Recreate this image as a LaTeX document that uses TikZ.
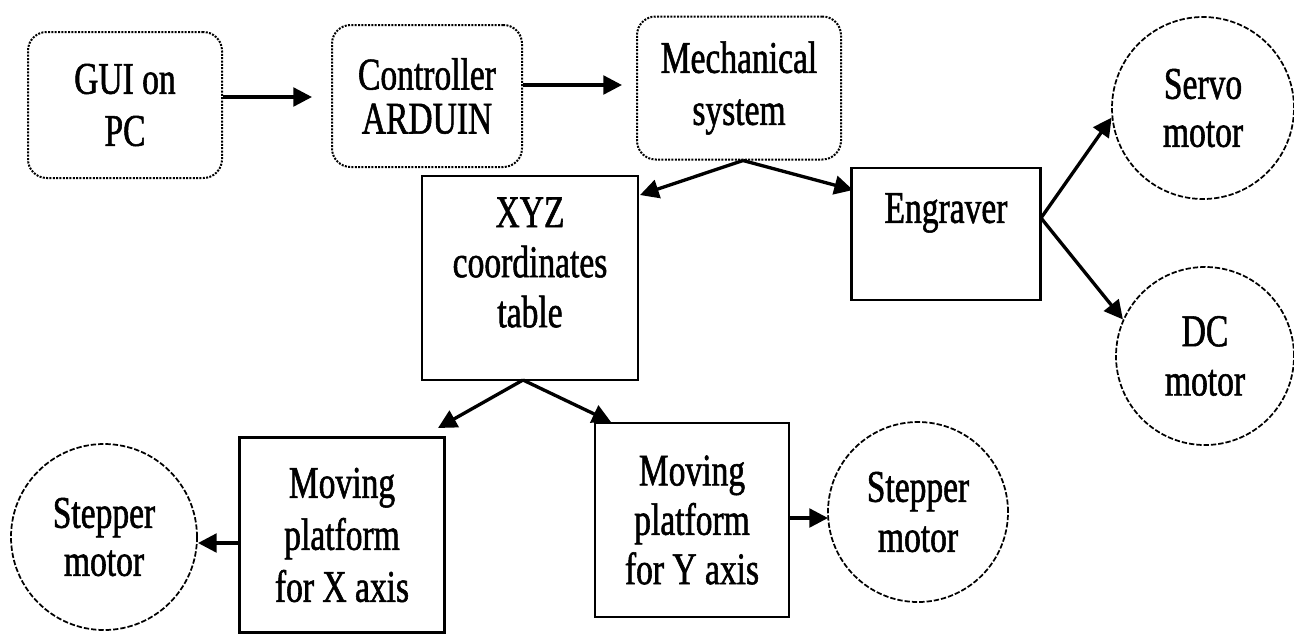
\documentclass[tikz,border=0pt]{standalone}
\usepackage{fontspec}
\setmainfont{Liberation Serif}[FakeStretch=0.74,FakeBold=1.2]
\usetikzlibrary{arrows.meta}
\tikzset{
  rbox/.style={draw=black, line width=1.5pt, densely dotted, rounded corners=14pt, align=center, inner sep=0pt},
  sbox/.style={draw=black, line width=2pt, align=center, inner sep=0pt},
  motor/.style={circle, draw=black, line width=1.3pt, dash pattern=on 4pt off 1.5pt, align=center, inner sep=0pt},
  arr/.style={draw=black, line width=2.5pt, -{Triangle[length=14pt,width=14pt]}},
}
\begin{document}
\begin{tikzpicture}[x=0.75pt,y=-0.75pt, font=\fontsize{34}{39}\selectfont]
\useasboundingbox (0,0) rectangle (1294,633);
% rounded boxes
\node[rbox, minimum width=194*0.75pt, minimum height=146*0.75pt] (gui) at (125,105) {GUI on\\PC};
\node[rbox, minimum width=190*0.75pt, minimum height=142*0.75pt, font=\fontsize{34}{33}\selectfont] (ctrl) at (427,96) {Controller\\ARDUIN};
\node[rbox, minimum width=204*0.75pt, minimum height=143*0.75pt] (mech) at (739,88) {Mechanical\\system};
% square boxes
\node[sbox, minimum width=216*0.75pt, minimum height=204*0.75pt, font=\fontsize{34}{37.5}\selectfont] (xyz) at (530,278) {XYZ\\coordinates\\table\\[-14pt]\mbox{}};
\node[sbox, minimum width=189*0.75pt, minimum height=132*0.75pt] (eng) at (946,234) {Engraver\\\mbox{}};
\node[sbox, minimum width=205*0.75pt, minimum height=195*0.75pt] (movx) at (342,535) {Moving\\platform\\for X axis};
\node[sbox, minimum width=194*0.75pt, minimum height=194*0.75pt, font=\fontsize{34}{37}\selectfont] (movy) at (692,520) {Moving\\platform\\for Y axis};
% motors
\node[motor, minimum size=182*0.75pt, font=\fontsize{34}{36}\selectfont] (servo) at (1203,108) {Servo\\motor};
\node[motor, minimum size=178*0.75pt, font=\fontsize{34}{37}\selectfont] (dc) at (1205,356) {DC\\motor};
\node[motor, minimum size=186*0.75pt, font=\fontsize{34}{36}\selectfont] (stepl) at (104,537) {Stepper\\motor};
\node[motor, minimum size=180*0.75pt, font=\fontsize{34}{37.5}\selectfont] (stepr) at (918,512) {Stepper\\motor};
% arrow end points
\coordinate (t1) at (312,97);
\coordinate (t2) at (622,85);
\coordinate (t3) at (640,195);
\coordinate (t4) at (853,190);
\coordinate (e0) at (1041,218);
\coordinate (b0) at (523,380);
\coordinate (t5) at (438,428);
\coordinate (t6) at (611,422);
\coordinate (t7) at (198,543);
\coordinate (t8) at (828,518);
% connectors
\draw[arr] (gui.east |- t1) -- (t1);
\draw[arr] (ctrl.east |- t2) -- (t2);
\draw[arr] ([xshift=3pt]mech.south) -- (t3);
\draw[arr] ([xshift=3pt]mech.south) -- (t4);
\draw[arr] (e0) -- (servo.186);
\draw[arr] (e0) -- (dc.156);
\draw[arr] (b0) -- (t5);
\draw[arr] (b0) -- (t6);
\draw[arr] (movx.west |- t7) -- (t7);
\draw[arr] (movy.east |- t8) -- (t8);
\end{tikzpicture}
\end{document}
